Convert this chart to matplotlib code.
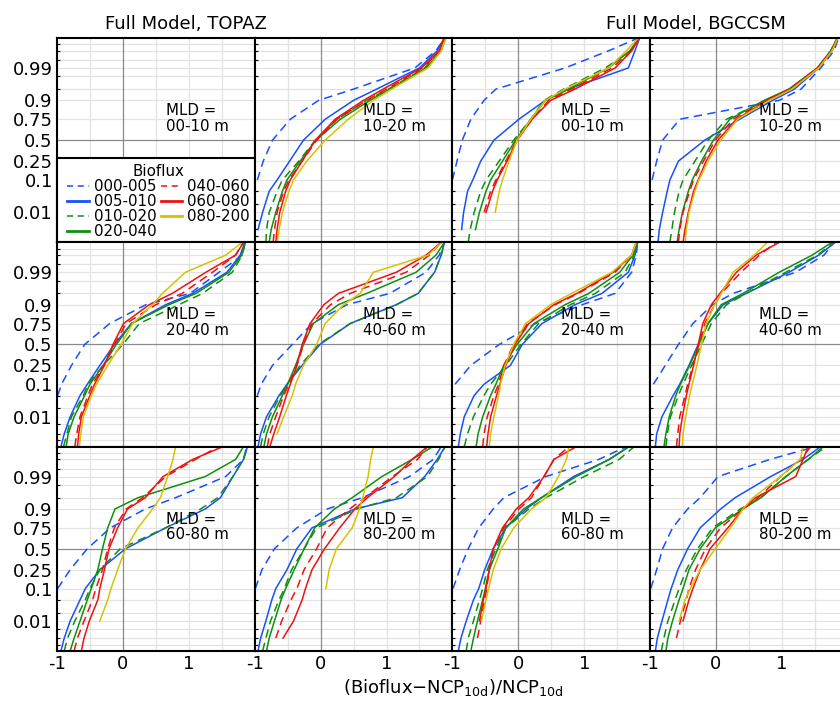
import numpy as np
import matplotlib
matplotlib.use("Agg")
import matplotlib.pyplot as plt
from matplotlib.lines import Line2D
from matplotlib.patches import Rectangle
from statistics import NormalDist

N = np.nan

# cumulative probability levels at which the quantiles below were read
P_LEVELS = [0.0005, 0.002, 0.01, 0.05, 0.1, 0.25, 0.5, 0.75, 0.9, 0.95, 0.99, 0.998, 0.9995]

SERIES = ["000-005", "005-010", "010-020", "020-040", "040-060", "060-080", "080-200"]

Y_TICKS = [0.01, 0.1, 0.25, 0.5, 0.75, 0.9, 0.99]
Y_TICK_LABELS = ["0.01", "0.1", "0.25", "0.5", "0.75", "0.9", "0.99"]
X_TICKS = [-1, 0, 1]
X_TICK_LABELS = ["-1", "0", "1"]

# quantiles (x values) per series, at P_LEVELS; one table per panel
TOPAZ_10_20 = [
    [N, N, N, N, -0.96, -0.87, -0.73, -0.46, -0.03, 0.50, 1.43, 1.75, 1.88],
    [N, -0.95, -0.88, -0.78, -0.66, -0.47, -0.26, 0.07, 0.50, 0.85, 1.50, 1.77, 1.88],
    [-0.83, -0.82, -0.78, -0.66, -0.58, -0.33, -0.08, 0.25, 0.70, 1.03, 1.58, 1.80, 1.88],
    [-0.78, -0.75, -0.68, -0.58, -0.51, -0.31, -0.07, 0.30, 0.75, 1.05, 1.60, 1.83, 1.90],
    [-0.72, -0.70, -0.66, -0.56, -0.48, -0.28, -0.06, 0.25, 0.70, 1.00, 1.55, 1.81, 1.88],
    [-0.68, -0.66, -0.62, -0.53, -0.46, -0.28, -0.08, 0.22, 0.65, 0.95, 1.53, 1.80, 1.87],
    [-0.66, -0.63, -0.58, -0.48, -0.41, -0.21, 0.07, 0.42, 0.80, 1.08, 1.63, 1.83, 1.90],
]
BGCCSM_00_10 = [
    [N, N, N, N, -1.0, -0.93, -0.85, -0.72, -0.52, -0.34, 0.71, 1.37, 1.82],
    [N, -0.86, -0.83, -0.77, -0.69, -0.57, -0.37, 0.01, 0.41, 0.76, 1.67, 1.77, 1.84],
    [-0.76, -0.73, -0.67, -0.57, -0.49, -0.29, -0.07, 0.19, 0.39, 0.69, 1.32, 1.71, 1.82],
    [N, -0.65, -0.59, -0.49, -0.42, -0.24, -0.04, 0.19, 0.41, 0.76, 1.37, 1.69, 1.84],
    [N, N, -0.52, -0.42, -0.34, -0.19, -0.02, 0.21, 0.46, 0.81, 1.42, 1.72, 1.82],
    [N, N, -0.49, -0.39, -0.32, -0.17, -0.02, 0.21, 0.49, 0.86, 1.47, 1.72, 1.84],
    [N, N, -0.35, -0.29, -0.24, -0.14, -0.02, 0.19, 0.41, 0.71, 1.37, 1.64, 1.82],
]
BGCCSM_10_20 = [
    [N, N, N, N, -0.97, -0.90, -0.81, -0.55, 0.96, 1.29, 1.59, 1.79, 1.86],
    [-0.88, -0.86, -0.81, -0.74, -0.70, -0.57, -0.17, 0.36, 0.86, 1.19, 1.56, 1.76, 1.85],
    [-0.70, -0.67, -0.63, -0.56, -0.50, -0.32, -0.12, 0.16, 0.76, 1.11, 1.54, 1.74, 1.84],
    [-0.59, -0.56, -0.51, -0.42, -0.36, -0.22, -0.04, 0.21, 0.73, 1.11, 1.54, 1.74, 1.84],
    [-0.57, -0.55, -0.50, -0.40, -0.34, -0.19, -0.01, 0.26, 0.76, 1.11, 1.54, 1.75, 1.85],
    [-0.50, -0.47, -0.42, -0.34, -0.27, -0.15, 0.03, 0.31, 0.78, 1.14, 1.54, 1.75, 1.85],
    [-0.47, -0.45, -0.41, -0.32, -0.26, -0.12, 0.07, 0.33, 0.81, 1.15, 1.56, 1.76, 1.85],
]
TOPAZ_20_40 = [
    [N, N, N, -0.99, -0.93, -0.78, -0.58, -0.20, 0.35, 1.02, 1.46, 1.81, 1.85],
    [-0.94, -0.89, -0.80, -0.65, -0.54, -0.35, -0.13, 0.13, 0.65, 1.06, 1.58, 1.78, 1.85],
    [-0.90, -0.85, -0.78, -0.60, -0.53, -0.30, 0.00, 0.25, 0.85, 1.21, 1.66, 1.81, 1.86],
    [-0.86, -0.83, -0.74, -0.58, -0.50, -0.30, -0.10, 0.13, 0.70, 1.11, 1.61, 1.80, 1.86],
    [-0.73, -0.70, -0.65, -0.53, -0.46, -0.29, -0.13, 0.05, 0.50, 0.90, 1.36, 1.71, 1.83],
    [-0.69, -0.67, -0.63, -0.50, -0.43, -0.28, -0.15, 0.01, 0.40, 0.75, 1.26, 1.71, 1.83],
    [-0.66, -0.64, -0.60, -0.48, -0.40, -0.23, -0.03, 0.15, 0.45, 0.60, 0.95, 1.56, 1.81],
]
TOPAZ_40_60 = [
    [N, N, N, -0.96, -0.90, -0.73, -0.43, -0.13, 0.40, 1.05, 1.60, 1.80, 1.88],
    [-0.95, -0.91, -0.82, -0.63, -0.51, -0.28, -0.01, 0.45, 1.15, 1.48, 1.73, 1.83, 1.88],
    [-0.91, -0.87, -0.78, -0.61, -0.51, -0.31, -0.03, 0.45, 1.15, 1.48, 1.73, 1.83, 1.88],
    [-0.86, -0.82, -0.73, -0.58, -0.50, -0.38, -0.26, -0.11, 0.27, 0.70, 1.45, 1.75, 1.88],
    [-0.81, -0.77, -0.68, -0.56, -0.48, -0.36, -0.26, -0.13, 0.15, 0.45, 1.30, 1.65, 1.83],
    [-0.77, -0.71, -0.62, -0.52, -0.46, -0.36, -0.28, -0.16, 0.05, 0.27, 1.15, 1.60, 1.83],
    [N, -0.66, -0.56, -0.43, -0.38, -0.26, -0.06, 0.07, 0.35, 0.60, 0.80, 1.63, 1.84],
]
BGCCSM_20_40 = [
    [N, N, N, N, -0.96, -0.72, -0.29, 0.26, 0.97, 1.47, 1.72, 1.79, 1.81],
    [-0.91, -0.88, -0.82, -0.67, -0.52, -0.12, 0.06, 0.36, 0.86, 1.27, 1.67, 1.77, 1.81],
    [-0.82, -0.77, -0.68, -0.52, -0.42, -0.19, 0.04, 0.31, 0.79, 1.17, 1.62, 1.76, 1.81],
    [-0.64, -0.61, -0.54, -0.42, -0.34, -0.22, -0.02, 0.24, 0.71, 1.07, 1.54, 1.74, 1.81],
    [-0.54, -0.52, -0.47, -0.37, -0.30, -0.22, -0.07, 0.14, 0.56, 0.91, 1.47, 1.72, 1.79],
    [-0.48, -0.46, -0.42, -0.33, -0.28, -0.19, -0.05, 0.16, 0.54, 0.89, 1.44, 1.72, 1.79],
    [-0.44, -0.42, -0.37, -0.30, -0.27, -0.20, -0.07, 0.11, 0.49, 0.81, 1.42, 1.72, 1.79],
]
BGCCSM_40_60 = [
    [N, N, N, N, -0.95, -0.77, -0.57, -0.35, -0.05, 0.26, 1.21, 1.64, 1.79],
    [-0.92, -0.90, -0.82, -0.65, -0.55, -0.41, -0.27, -0.12, 0.11, 0.46, 1.11, 1.56, 1.81],
    [-0.76, -0.74, -0.69, -0.57, -0.50, -0.37, -0.22, -0.07, 0.16, 0.46, 1.06, 1.54, 1.79],
    [-0.79, -0.76, -0.71, -0.61, -0.54, -0.40, -0.26, -0.12, 0.08, 0.41, 0.96, 1.46, 1.76],
    [-0.60, -0.58, -0.55, -0.47, -0.43, -0.35, -0.26, -0.17, -0.02, 0.08, 0.38, 0.66, 0.91],
    [-0.56, -0.55, -0.51, -0.45, -0.41, -0.34, -0.27, -0.20, -0.07, 0.06, 0.31, 0.61, 0.96],
    [-0.51, -0.50, -0.46, -0.40, -0.36, -0.29, -0.22, -0.15, -0.02, 0.08, 0.26, 0.58, 0.78],
]
TOPAZ_60_80 = [
    [N, N, N, N, -0.99, -0.80, -0.54, -0.19, 0.34, 0.80, 1.56, 1.83, 1.88],
    [-0.94, -0.89, -0.80, -0.65, -0.57, -0.35, 0.04, 0.65, 1.25, 1.48, 1.67, 1.83, 1.89],
    [-0.89, -0.84, -0.73, -0.57, -0.50, -0.35, -0.04, 0.65, 1.18, 1.44, 1.67, 1.83, 1.89],
    [-0.80, -0.74, -0.65, -0.54, -0.48, -0.38, -0.31, -0.23, -0.12, 0.23, 1.25, 1.71, 1.83],
    [-0.74, -0.69, -0.59, -0.46, -0.41, -0.31, -0.23, -0.13, 0.05, 0.30, 0.65, 1.10, 1.45],
    [-0.63, -0.59, -0.51, -0.38, -0.35, -0.28, -0.21, -0.08, 0.07, 0.34, 0.61, 1.06, 1.52],
    [N, N, -0.35, -0.23, -0.18, -0.08, 0.04, 0.23, 0.45, 0.57, 0.68, 0.76, 0.80],
]
TOPAZ_80_200 = [
    [N, N, N, N, -0.99, -0.89, -0.70, -0.36, 0.10, 0.63, 1.35, 1.71, 1.83],
    [-0.95, -0.91, -0.83, -0.74, -0.68, -0.51, -0.36, -0.13, 0.52, 1.24, 1.58, 1.77, 1.89],
    [-0.88, -0.83, -0.76, -0.63, -0.55, -0.44, -0.25, -0.06, 0.55, 1.15, 1.62, 1.79, 1.89],
    [-0.82, -0.78, -0.70, -0.60, -0.53, -0.40, -0.25, -0.09, 0.21, 0.48, 0.93, 1.39, 1.70],
    [N, -0.68, -0.59, -0.45, -0.36, -0.25, -0.06, 0.10, 0.44, 0.67, 1.09, 1.47, 1.62],
    [N, -0.57, -0.41, -0.28, -0.23, -0.13, 0.06, 0.29, 0.52, 0.71, 1.12, 1.39, 1.62],
    [N, N, N, N, 0.08, 0.13, 0.24, 0.48, 0.59, 0.64, 0.72, 0.76, 0.80],
]
BGCCSM_60_80 = [
    [N, N, N, N, -0.99, -0.89, -0.76, -0.60, -0.38, -0.22, 0.42, 1.22, 1.64],
    [-0.91, -0.87, -0.79, -0.68, -0.60, -0.51, -0.38, -0.19, 0.12, 0.35, 0.84, 1.38, 1.68],
    [-0.79, -0.76, -0.68, -0.59, -0.54, -0.47, -0.34, -0.19, 0.16, 0.42, 1.00, 1.53, 1.76],
    [-0.72, -0.68, -0.62, -0.54, -0.50, -0.44, -0.31, -0.19, 0.08, 0.35, 0.88, 1.38, 1.68],
    [N, -0.62, -0.57, -0.51, -0.48, -0.44, -0.38, -0.22, 0.01, 0.20, 0.39, 0.54, 0.77],
    [N, N, -0.59, -0.53, -0.49, -0.44, -0.38, -0.24, -0.03, 0.16, 0.39, 0.54, 0.88],
    [N, N, -0.56, -0.49, -0.45, -0.38, -0.26, -0.07, 0.20, 0.42, 0.61, 0.73, 0.77],
]
BGCCSM_80_200 = [
    [N, N, N, N, -0.99, -0.90, -0.81, -0.66, -0.43, -0.24, 0.03, 0.82, 1.51],
    [-0.92, -0.89, -0.82, -0.73, -0.68, -0.58, -0.43, -0.24, 0.07, 0.29, 0.83, 1.32, 1.59],
    [-0.83, -0.79, -0.73, -0.62, -0.56, -0.45, -0.28, -0.05, 0.37, 0.68, 1.06, 1.40, 1.67],
    [-0.76, -0.73, -0.66, -0.56, -0.50, -0.41, -0.24, -0.01, 0.41, 0.68, 1.06, 1.40, 1.63],
    [N, -0.60, -0.54, -0.45, -0.41, -0.31, -0.16, 0.07, 0.41, 0.64, 0.98, 1.28, 1.44],
    [N, N, -0.50, -0.41, -0.35, -0.24, -0.09, 0.18, 0.41, 0.60, 1.21, 1.32, 1.40],
    [N, N, -0.56, -0.47, -0.39, -0.24, -0.01, 0.22, 0.41, 0.56, 0.98, 1.28, 1.32],
]

PANELS = [
    [(None, "00-10"), (TOPAZ_10_20, "10-20"), (BGCCSM_00_10, "00-10"), (BGCCSM_10_20, "10-20")],
    [(TOPAZ_20_40, "20-40"), (TOPAZ_40_60, "40-60"), (BGCCSM_20_40, "20-40"), (BGCCSM_40_60, "40-60")],
    [(TOPAZ_60_80, "60-80"), (TOPAZ_80_200, "80-200"), (BGCCSM_60_80, "60-80"), (BGCCSM_80_200, "80-200")],
]

# ---- styles ----
BLUE, GREEN, RED, YELLOW = "#1650ff", "#0f8f0f", "#f01010", "#d8c200"
COLORS = [BLUE, BLUE, GREEN, GREEN, RED, RED, YELLOW]
DASHED = [True, False, True, False, True, False, False]
MINOR_P = [0.001, 0.002, 0.005, 0.01, 0.02, 0.05, 0.1, 0.25, 0.75, 0.9, 0.95, 0.98, 0.99, 0.995, 0.998, 0.999]

plt.rcParams["font.family"] = ["DejaVu Sans"]
plt.rcParams["axes.unicode_minus"] = False
plt.rcParams["mathtext.default"] = "regular"

ppf = NormalDist().inv_cdf
Z_LEVELS = np.array([ppf(p) for p in P_LEVELS])
ZLIM = (ppf(0.0005), ppf(0.9995))

W, H = 840, 701
fig = plt.figure(figsize=(W / 100, H / 100), dpi=100)

col_w = 197.7
row_h = 204.3
x0, y0 = 57.0, 38.0

axes = []
for i, row in enumerate(PANELS):
    for j, (table, mld) in enumerate(row):
        left = (x0 + j * col_w) / W
        bottom = 1 - (y0 + (i + 1) * row_h) / H
        ax = fig.add_axes([left, bottom, col_w / W, row_h / H])
        axes.append(ax)
        ax.set_xlim(-1, 2)
        ax.set_ylim(*ZLIM)
        # light grid
        for xv in [-0.5, 0.5, 1.0, 1.5]:
            ax.axvline(xv, color="#e3e3e3", lw=0.9, zorder=0)
        for p in MINOR_P:
            ax.axhline(ppf(p), color="#e3e3e3", lw=0.9, zorder=0)
        ax.axvline(0, color="#8a8a8a", lw=0.9, zorder=0.5)
        ax.axhline(0, color="#8a8a8a", lw=0.9, zorder=0.5)
        if table is not None:
            for k, xs in enumerate(table):
                xs = np.array(xs, dtype=float)
                m = ~np.isnan(xs)
                ls = (0, (5.5, 3.5)) if DASHED[k] else "-"
                ax.plot(xs[m], Z_LEVELS[m], color=COLORS[k], lw=1.1, ls=ls, zorder=2)
        ax.text(0.65, 0.70, "MLD =\n%s m" % mld, ha="left", va="center",
                fontsize=10.8, linespacing=1.05, zorder=3)
        for s in ax.spines.values():
            s.set_linewidth(1.5)
            s.set_color("black")
        ax.set_xticks(X_TICKS)
        ax.set_yticks([ppf(p) for p in Y_TICKS])
        ax.set_yticks([ppf(p) for p in MINOR_P], minor=True)
        ax.tick_params(axis="both", which="major", length=0, pad=3, labelsize=13)
        ax.tick_params(axis="y", which="minor", length=2.5, width=0.8, direction="in")
        ax.tick_params(axis="x", which="minor", length=0)
        if j == 0:
            ax.set_yticklabels(Y_TICK_LABELS)
        else:
            ax.set_yticklabels([])
        if i == 2:
            ax.set_xticklabels(X_TICK_LABELS)
        else:
            ax.set_xticklabels([])

# legend box in the first (empty) panel
ax00 = axes[0]
box_h = (242 - 158) / row_h
frame = Rectangle((0, 0), 1, box_h, transform=ax00.transAxes, facecolor="white",
                  edgecolor="black", lw=1.5, zorder=5, clip_on=False)
ax00.add_patch(frame)
handles = [Line2D([], [], color=COLORS[k], lw=2.0 if not DASHED[k] else 1.1,
                  ls=(0, (4, 3)) if DASHED[k] else "-") for k in range(len(SERIES))]
leg = ax00.legend(handles, SERIES, ncol=2, loc="upper left",
                  bbox_to_anchor=(67 / W, 1 - 164 / H), bbox_transform=fig.transFigure,
                  borderaxespad=0.0, title="Bioflux", fontsize=10.8, title_fontsize=10.8,
                  frameon=False, handlelength=1.45, handletextpad=0.33, columnspacing=0.28,
                  labelspacing=0.0, borderpad=0.0)
leg.set_zorder(10)

fig.text(186 / W, 1 - 24 / H, "Full Model, TOPAZ", ha="center", va="center", fontsize=13)
fig.text(696 / W, 1 - 24 / H, "Full Model, BGCCSM", ha="center", va="center", fontsize=13)
fig.text(453 / W, 1 - 688 / H, "(Bioflux$-$NCP$_{10d}$)/NCP$_{10d}$", ha="center",
         va="center", fontsize=13)

fig.savefig("out.png", dpi=100)
